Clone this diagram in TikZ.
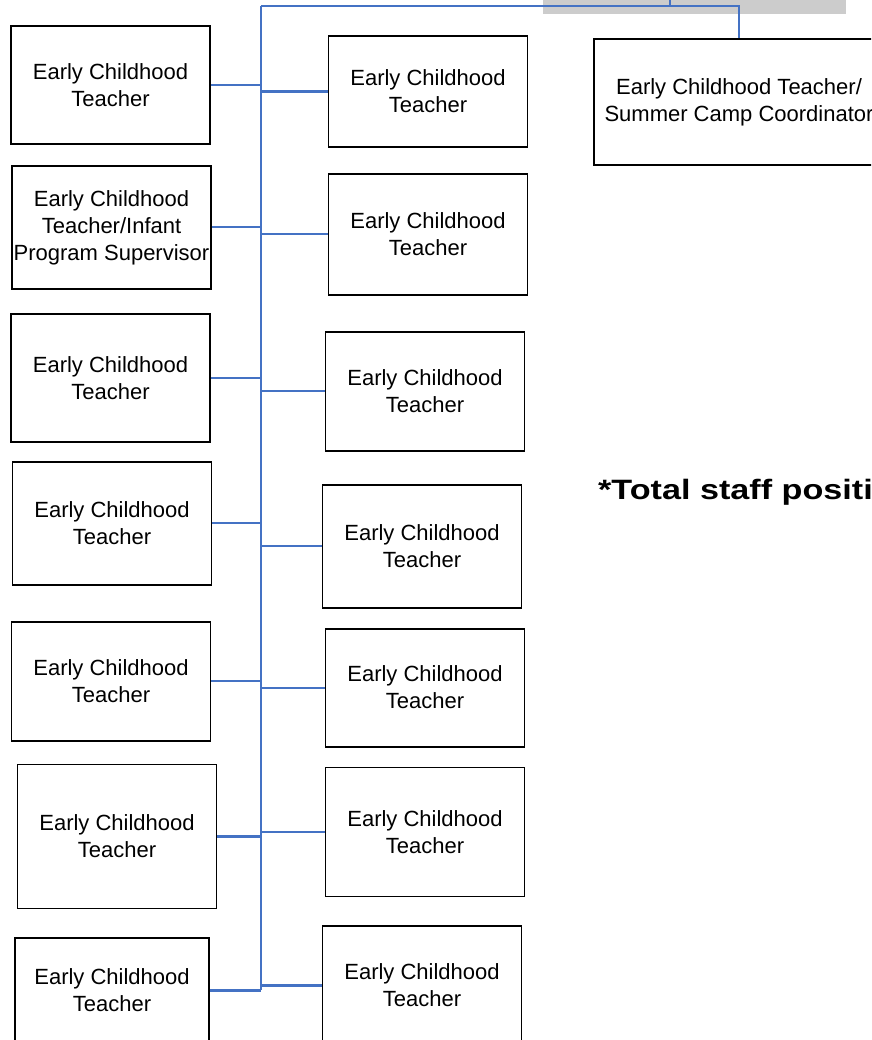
\documentclass[tikz,border=0pt]{standalone}
\usepackage{fontspec}
\setmainfont{Liberation Sans}
\newfontfamily\notefont[FakeStretch=1.22]{Liberation Sans}
\usetikzlibrary{positioning}
\definecolor{orgblue}{RGB}{68,114,196}
\tikzstyle{orgline} = [draw=orgblue, line width=2.2pt]
\tikzstyle{trunkline} = [draw=orgblue, line width=2.6pt]

\begin{document}
\begin{tikzpicture}[x=1pt, y=-1pt,
teacherbox/.style={rectangle, draw=black, line width=1.9pt, minimum width=199pt, inner sep=0pt, align=center, font=\fontsize{22}{27}\selectfont},
shadowbox/.style={rectangle, fill=black!20, inner sep=0pt},
]
\useasboundingbox (0,0) rectangle (871,1040);
\clip (0,0) rectangle (871,1040);

%Nodes
\node[shadowbox, minimum width=303pt, minimum height=54pt] (bosshadow) at (694.5,-13) {};
\node[teacherbox, minimum height=118pt] (left1) at (110.5,85) {Early Childhood\\Teacher};
\node[teacherbox, minimum height=123pt] (left2) [below=20pt of left1, xshift=1pt] {Early Childhood\\Teacher/Infant\\Program Supervisor};
\node[teacherbox, minimum height=128pt] (left3) [below=23pt of left2, xshift=-1pt] {Early Childhood\\Teacher};
\node[teacherbox, minimum height=123pt] (left4) [below=18pt of left3, xshift=1.5pt] {Early Childhood\\Teacher};
\node[teacherbox, minimum height=119pt] (left5) [below=35pt of left4, xshift=-1pt] {Early Childhood\\Teacher};
\node[teacherbox, minimum height=144pt] (left6) [below=22pt of left5, xshift=6pt] {Early Childhood\\Teacher};
\node[teacherbox, minimum height=104pt, minimum width=194pt] (left7) [below=28pt of left6, xshift=-5pt] {Early Childhood\\Teacher};

\node[teacherbox, minimum height=111pt] (right1) at (428,91.5) {Early Childhood\\Teacher};
\node[teacherbox, minimum height=121pt] (right2) [below=25pt of right1] {Early Childhood\\Teacher};
\node[teacherbox, minimum height=119pt] (right3) [below=35pt of right2, xshift=-3pt] {Early Childhood\\Teacher};
\node[teacherbox, minimum height=123pt] (right4) [below=32pt of right3, xshift=-3pt] {Early Childhood\\Teacher};
\node[teacherbox, minimum height=118pt] (right5) [below=19pt of right4, xshift=3pt] {Early Childhood\\Teacher};
\node[teacherbox, minimum height=129pt] (right6) [below=19pt of right5] {Early Childhood\\Teacher};
\node[teacherbox, minimum height=118pt] (right7) [below=28pt of right6, xshift=-3pt] {Early Childhood\\Teacher};

\node[teacherbox, minimum width=290pt, minimum height=126pt] (coordinator) at (739,102) {Early Childhood Teacher/\\Summer Camp Coordinator};
\node[anchor=base west, inner sep=0pt, font=\notefont\fontsize{28}{34}\selectfont\bfseries] (staffnote) at (598,499) {*Total staff positions};

\coordinate (trunktop) at (261,6);
\coordinate (bossdrop) at (670,-20);

%Lines
\draw[orgline] (bossdrop) -- (bossdrop |- trunktop);
\draw[orgline] (trunktop) -| (coordinator.north);
\draw[trunkline] (trunktop) -- (trunktop |- left7.east);
\draw[orgline] (left1.east) -- (left1.east -| trunktop);
\draw[orgline] (left2.east) -- (left2.east -| trunktop);
\draw[orgline] (left3.east) -- (left3.east -| trunktop);
\draw[orgline] (left4.east) -- (left4.east -| trunktop);
\draw[orgline] (left5.east) -- (left5.east -| trunktop);
\draw[orgline] (left6.east) -- (left6.east -| trunktop);
\draw[orgline] (left7.east) -- (left7.east -| trunktop);
\draw[orgline] (right1.west) -- (right1.west -| trunktop);
\draw[orgline] (right2.west) -- (right2.west -| trunktop);
\draw[orgline] (right3.west) -- (right3.west -| trunktop);
\draw[orgline] (right4.west) -- (right4.west -| trunktop);
\draw[orgline] (right5.west) -- (right5.west -| trunktop);
\draw[orgline] (right6.west) -- (right6.west -| trunktop);
\draw[orgline] (right7.west) -- (right7.west -| trunktop);

\end{tikzpicture}
\end{document}
